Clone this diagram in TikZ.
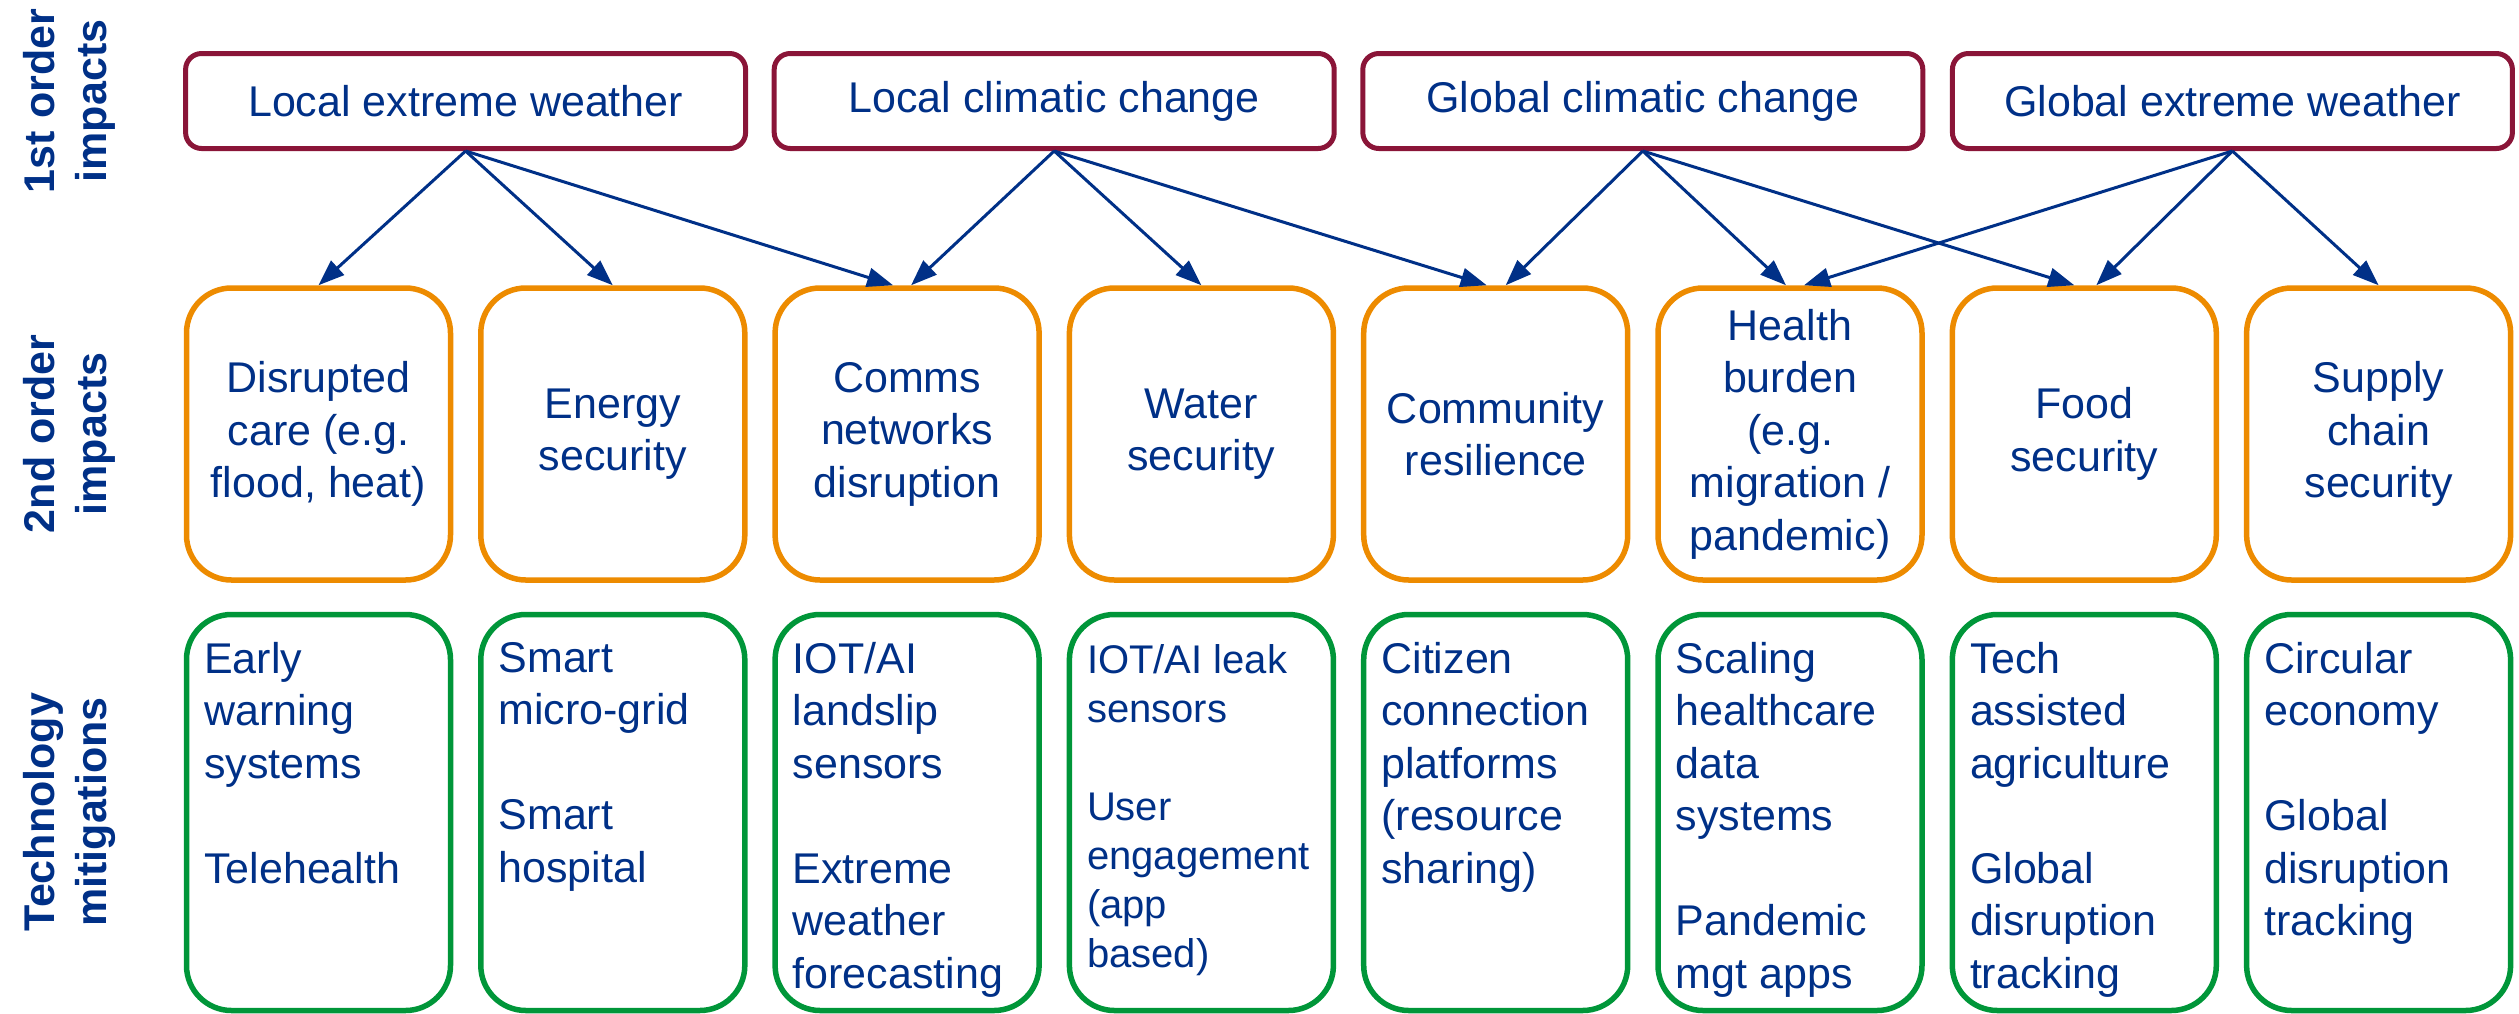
\documentclass[tikz,border=0pt]{standalone}
\usepackage{fontspec}
\setmainfont{Liberation Sans}
\usetikzlibrary{arrows.meta}
\definecolor{nhsblue}{RGB}{0,48,135}
\definecolor{maroonc}{RGB}{138,21,56}
\definecolor{orangec}{RGB}{237,139,0}
\definecolor{greenc}{RGB}{0,150,57}
\begin{document}
\begin{tikzpicture}[x=1pt,y=-1pt,
  basetxt/.style={font=\fontsize{43}{52.5}\selectfont, text=nhsblue, inner sep=0pt},
  topbox/.style={basetxt, draw=maroonc, line width=5pt, rounded corners=16pt, minimum width=560pt, minimum height=95pt, align=center},
  midbox/.style={basetxt, draw=orangec, line width=5.5pt, rounded corners=45pt, minimum width=264pt, minimum height=292pt, align=center},
  lowbox/.style={draw=greenc, line width=5.5pt, rounded corners=45pt, minimum width=264pt, minimum height=396pt, inner sep=0pt},
  lowtxt/.style={basetxt, anchor=north west, align=left},
  rowlab/.style={font=\fontsize{43}{52}\selectfont\bfseries, text=nhsblue, rotate=90, align=center, inner sep=0pt},
  arr/.style={draw=nhsblue, line width=3pt, -{Triangle[length=26pt,width=19pt]}}
]
\useasboundingbox (0,0) rectangle (2519,1013);

% row labels
\node[rowlab] (l1) at (69,101) {1st order\\impacts};
\node[rowlab] (l2) at (69,434) {2nd order\\impacts};
\node[rowlab] (l3) at (69,812) {Technology\\mitigations};

% first order
\node[topbox] (lew) at (465.6,101) {Local extreme weather};
\node[topbox] (lcc) at (1054.2,101) {Local climatic change};
\node[topbox] (gcc) at (1642.8,101) {Global climatic change};
\node[topbox] (gew) at (2232.4,101) {Global extreme weather};

% second order
\node[midbox] (dis) at (318.5,434) {Disrupted\\care (e.g.\\flood, heat)};
\node[midbox] (ene) at (612.8,434) {Energy\\security};
\node[midbox] (com) at (907.1,434) {Comms\\networks\\disruption};
\node[midbox] (wat) at (1201.4,434) {Water\\security};
\node[midbox] (cre) at (1495.7,434) {Community\\resilience};
\node[midbox] (hea) at (1790,434) {Health\\burden\\(e.g.\\migration /\\pandemic)};
\node[midbox] (foo) at (2084.3,434) {Food\\security};
\node[midbox] (sup) at (2378.6,434) {Supply\\chain\\security};

% mitigations
\node[lowbox] (g1) at (318.5,812.5) {};
\node[lowbox] (g2) at (612.8,812.5) {};
\node[lowbox] (g3) at (907.1,812.5) {};
\node[lowbox] (g4) at (1201.4,812.5) {};
\node[lowbox] (g5) at (1495.7,812.5) {};
\node[lowbox] (g6) at (1790,812.5) {};
\node[lowbox] (g7) at (2084.3,812.5) {};
\node[lowbox] (g8) at (2378.6,812.5) {};

\node[lowtxt] (t1) at (204,642) {Early\\warning\\systems\\[52.5pt]Telehealth};
\node[lowtxt] (t2) at (498.3,642) {Smart\\micro-grid\\[52.5pt]Smart\\hospital};
\node[lowtxt] (t3) at (792.6,642) {IOT/AI\\landslip\\sensors\\[52.5pt]Extreme\\weather\\forecasting};
\node[lowtxt, font=\fontsize{40}{49}\selectfont] (t4) at (1086.9,644) {IOT/AI leak\\sensors\\[49pt]User\\engagement\\(app\\based)};
\node[lowtxt] (t5) at (1381.2,642) {Citizen\\connection\\platforms\\(resource\\sharing)};
\node[lowtxt] (t6) at (1675.5,642) {Scaling\\healthcare\\data\\systems\\[52.5pt]Pandemic\\mgt apps};
\node[lowtxt] (t7) at (1969.8,642) {Tech\\assisted\\agriculture\\[52.5pt]Global\\disruption\\tracking};
\node[lowtxt] (t8) at (2264.1,642) {Circular\\economy\\[52.5pt]Global\\disruption\\tracking};

% connectors
\draw[arr] (lew.south) -- (dis.north);
\draw[arr] (lew.south) -- (ene.north);
\draw[arr] (lew.south) -- ([xshift=-14pt]com.north);
\draw[arr] (lcc.south) -- ([xshift=4pt]com.north);
\draw[arr] (lcc.south) -- (wat.north);
\draw[arr] (lcc.south) -- ([xshift=-9pt]cre.north);
\draw[arr] (gcc.south) -- ([xshift=10pt]cre.north);
\draw[arr] (gcc.south) -- ([xshift=-4pt]hea.north);
\draw[arr] (gcc.south) -- ([xshift=-10pt]foo.north);
\draw[arr] (gew.south) -- ([xshift=14pt]hea.north);
\draw[arr] (gew.south) -- ([xshift=12pt]foo.north);
\draw[arr] (gew.south) -- (sup.north);
\end{tikzpicture}
\end{document}
